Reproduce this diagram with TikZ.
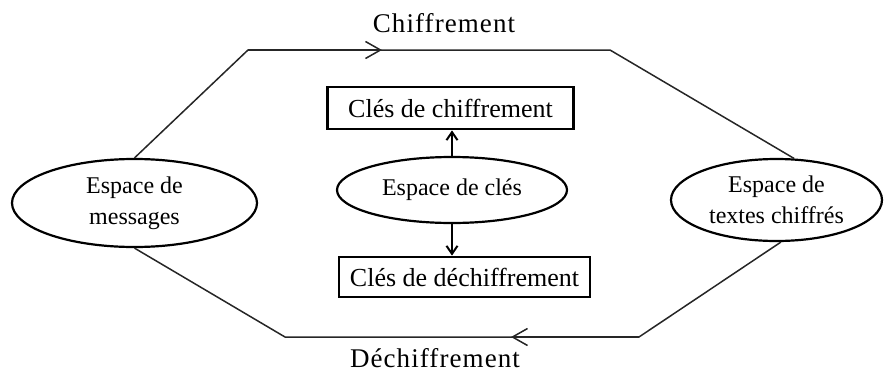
\documentclass[tikz,border=0pt]{standalone}
\usepackage{fontspec}
\setmainfont{Liberation Serif}
\usetikzlibrary{shapes.geometric,arrows.meta}
\tikzset{
  space/.style={ellipse, draw, line width=2.2pt, inner sep=0pt, align=center,
    font=\fontsize{24}{31}\selectfont},
  keybox/.style={rectangle, draw, line width=2.8pt, inner sep=0pt,
    font=\fontsize{26}{30}\selectfont},
  flow/.style={line width=1.5pt, draw=black!85},
  bigtip/.style={-{Straight Barb[length=15pt,width=17pt]}},
  smalltip/.style={line width=2pt, -{Straight Barb[length=8pt,width=11pt]}},
  title/.style={anchor=base, inner sep=0pt,
    font=\fontsize{27}{30}\selectfont\addfontfeatures{LetterSpace=4}}
}
\begin{document}
\begin{tikzpicture}[x=1pt,y=-1pt]
\useasboundingbox (0,0) rectangle (884,372);
\node[space, minimum width=245pt, minimum height=88pt] (l) at (134.5,203) {Espace de\\messages};
\node[space, minimum width=211pt, minimum height=82pt] (r) at (776.5,200) {Espace de\\textes chiffrés};
\node[space, minimum width=230pt, minimum height=66pt] (k) at (452,190) {Espace de clés};
\node[keybox, minimum width=246pt, minimum height=42pt] (ck) at (450.5,108) {Clés de chiffrement};
\node[keybox, minimum width=251pt, minimum height=40pt] (dk) at (464.5,277) {Clés de déchiffrement};
\node[title] (tc) at (444,32) {Chiffrement};
\node[title] (td) at (435,367) {Déchiffrement};
\coordinate (tl) at (248,50);
\coordinate (tr) at (610,50);
\coordinate (ta) at (382,50);
\coordinate (bl) at (285,337);
\coordinate (br) at (639,337);
\coordinate (ba) at (511,337);
\draw[flow] (l.north) -- (tl) -- (tr) -- (r.67);
\draw[flow, bigtip] (tl) -- (ta);
\draw[flow] (l.south) -- (bl) -- (br) -- (r.-84);
\draw[flow, bigtip] (br) -- (ba);
\draw[smalltip] (k.north) -- (k.north |- ck.south);
\draw[smalltip] (k.south) -- (k.south |- dk.north);
\end{tikzpicture}
\end{document}
